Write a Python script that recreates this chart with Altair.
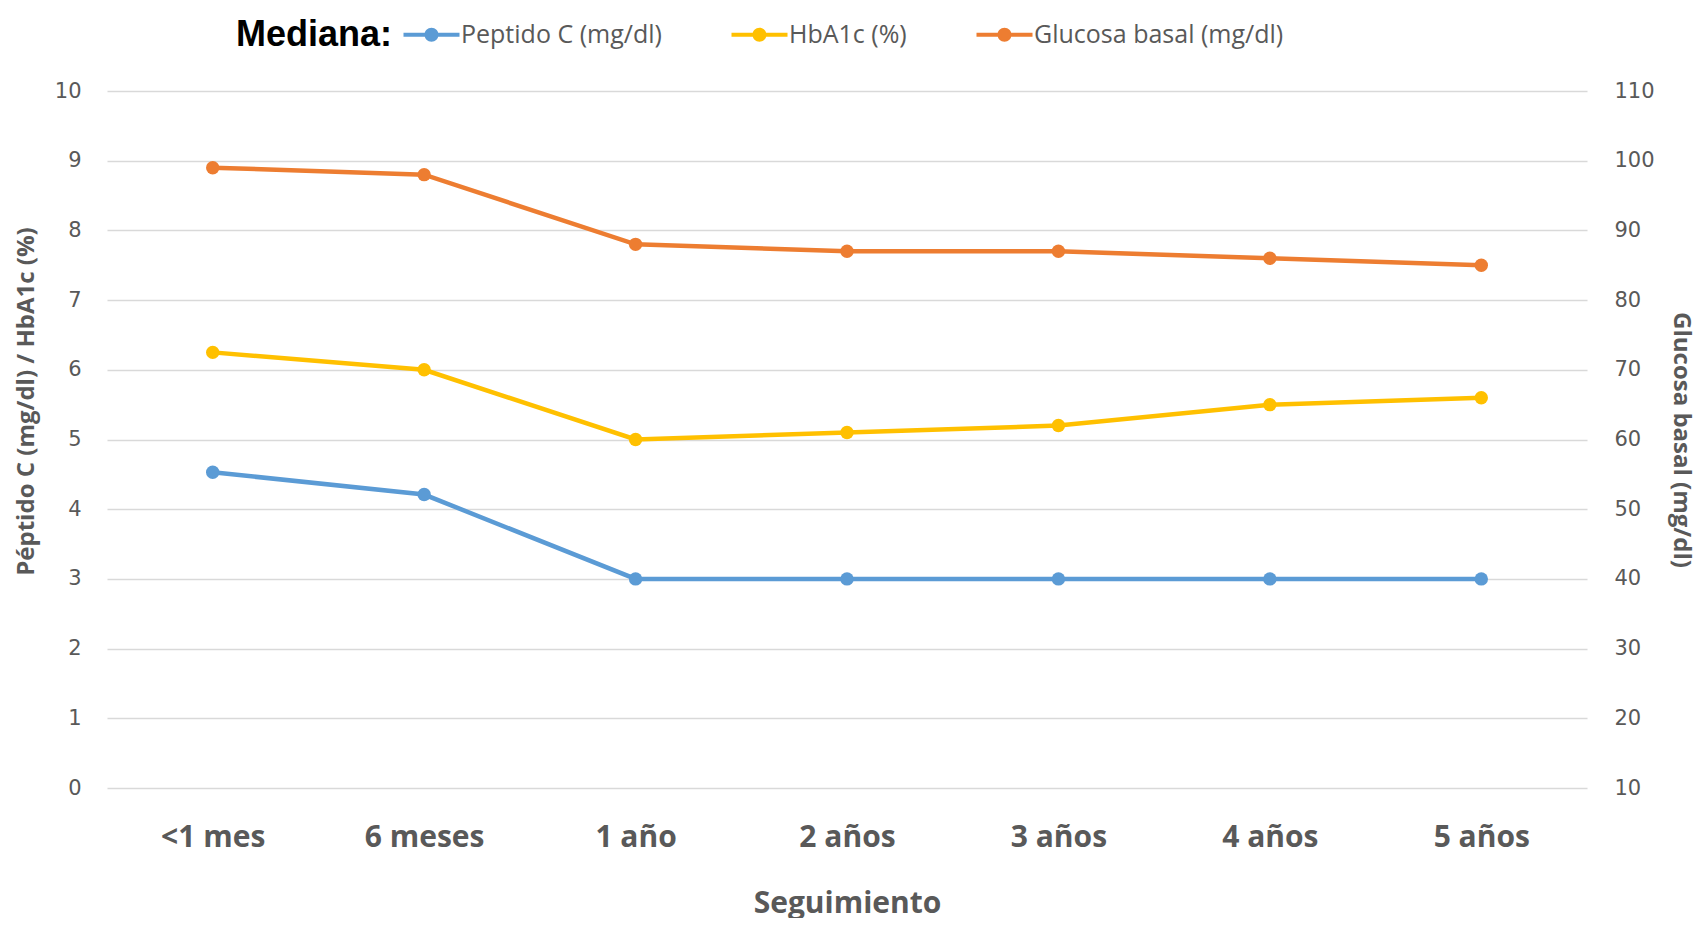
import altair as alt
import pandas as pd

categories = ["<1 mes", "6 meses", "1 año", "2  años", "3 años", "4 años", "5 años"]
series_names = ["Peptido C (mg/dl)", "HbA1c (%)", "Glucosa basal (mg/dl)"]
peptido_c = [4.53, 4.21, 3.0, 3.0, 3.0, 3.0, 3.0]
hba1c = [6.25, 6.0, 5.0, 5.1, 5.2, 5.5, 5.6]
glucosa = [99, 98, 88, 87, 87, 86, 85]
colors = ["#5B9BD5", "#FFC000", "#ED7D31"]
left_ticks = list(range(0, 11))
right_ticks = list(range(10, 111, 10))

left_rows = []
for name, vals in zip(series_names[:2], [peptido_c, hba1c]):
    for c, v in zip(categories, vals):
        left_rows.append({"seguimiento": c, "serie": name, "valor": v})
left_df = pd.DataFrame(left_rows)
right_df = pd.DataFrame({"seguimiento": categories, "serie": series_names[2], "valor": glucosa})

GRAY = "#595959"
FONT = "Open Sans"
NUMFONT = "DejaVu Sans"

legend_symbol = ("M-4,-0.29H4V0.29H-4Z "
                 "M-1,0A1,1 0 1,1 1,0A1,1 0 1,1 -1,0Z")

x_enc = alt.X(
    "seguimiento:N", sort=categories,
    scale=alt.Scale(type="point", padding=0.5),
    axis=alt.Axis(title="Seguimiento", labelAngle=0, labelFont=FONT, labelFontSize=30,
                  labelFontWeight="bold", labelColor=GRAY, labelPadding=34,
                  titleFont=FONT, titleFontSize=30, titleFontWeight="bold", titleColor=GRAY,
                  titlePadding=36, domain=False, ticks=False, grid=False),
)

# colour scale carrying the legend (points)
color_scale = alt.Scale(domain=series_names, range=colors)
# same mapping for the lines, declared in reverse order so that its
# (hidden) legend is not merged with the colour legend
stroke_scale = alt.Scale(domain=series_names[::-1], range=colors[::-1])

legend = alt.Legend(
    orient="none", legendX=129, legendY=-69, direction="horizontal",
    title="Mediana:", titleOrient="left", titleFont="Liberation Sans", titleFontSize=36,
    titleFontWeight="bold", titleColor="black", titlePadding=26,
    labelFont=FONT, labelFontSize=25, labelColor=GRAY, labelOffset=17, labelLimit=500,
    symbolType=legend_symbol, symbolSize=196, symbolStrokeWidth=0, columnPadding=69,
)

y_left = alt.Y(
    "valor:Q", scale=alt.Scale(domain=[0, 10], nice=False, zero=False),
    axis=alt.Axis(orient="left", values=left_ticks, title="Péptido C (mg/dl) / HbA1c (%)",
                  labelFont=NUMFONT, labelFontSize=21, labelColor=GRAY, labelPadding=26,
                  titleFont=FONT, titleFontSize=24, titleFontWeight="bold", titleColor=GRAY,
                  titlePadding=16, titleY=310, grid=True, gridColor="#D9D9D9", gridWidth=1.5,
                  domain=False, ticks=False),
)
y_right = alt.Y(
    "valor:Q", scale=alt.Scale(domain=[10, 110], nice=False, zero=False),
    axis=alt.Axis(orient="right", values=right_ticks, title="Glucosa basal (mg/dl)",
                  labelFont=NUMFONT, labelFontSize=21, labelColor=GRAY, labelPadding=27,
                  titleFont=FONT, titleFontSize=24, titleFontWeight="bold", titleColor=GRAY,
                  titlePadding=14, grid=False, domain=False, ticks=False),
)

def layers(df, y):
    base = alt.Chart(df)
    line = base.mark_line(strokeWidth=4.5).encode(
        x=x_enc, y=y,
        stroke=alt.Stroke("serie:N", scale=stroke_scale, legend=None),
        detail="serie:N")
    pts = base.mark_point(filled=True, size=180, opacity=1).encode(
        x=x_enc, y=y, color=alt.Color("serie:N", scale=color_scale, legend=legend))
    return alt.layer(line, pts)

left = layers(left_df, y_left)
right = layers(right_df, y_right)

chart = (
    alt.layer(left, right)
    .resolve_scale(y="independent")
    .properties(width=1480, height=697,
                padding={"left": 6, "top": 14, "right": 0, "bottom": 0},
                background="white")
    .configure_view(stroke=None)
)

chart.save("out.html", embed_options={"renderer": "svg", "actions": False})
